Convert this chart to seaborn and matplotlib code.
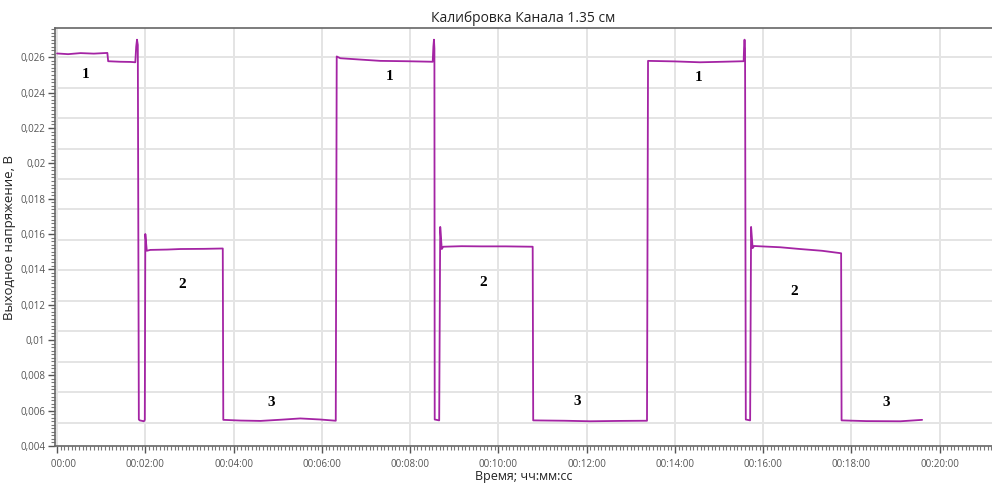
import matplotlib
matplotlib.use("Agg")
import matplotlib.pyplot as plt
from matplotlib.ticker import MultipleLocator, FixedLocator
from matplotlib.transforms import Bbox, TransformedBbox, IdentityTransform
import numpy as np
import pandas as pd
import seaborn as sns

# time in seconds, output voltage in volts
time_s = [0, 15, 32, 50, 68.4, 69.5, 86, 100, 106.4, 107.6, 108.7, 109.8,
          111.2, 112.5, 118, 119.3,
          120, 122, 126.8, 150, 167.6, 200, 225.3,
          226, 250, 276.5, 305, 330.6, 357.8, 378.9,
          380.2, 385, 410, 439.4, 475, 510.7, 511.6, 512.4, 513.0,
          513.4, 519.5,
          520.9, 523, 525, 550, 576.5, 610, 646.6,
          647.3, 690, 724.7, 765, 802,
          803.4, 840, 874, 905, 933.4, 934.0, 934.6, 935.3,
          936.3, 942.2,
          943.5, 945.6, 947.6, 983, 1010, 1040, 1065.9,
          1066.5, 1100, 1146.6, 1176]
voltage = [0.02622, 0.02618, 0.02624, 0.02621, 0.02625, 0.02578, 0.02575, 0.02574, 0.02572, 0.02660, 0.02700, 0.02670,
           0.00550, 0.00545, 0.00540, 0.00548,
           0.01600, 0.01505, 0.01510, 0.01512, 0.01515, 0.01516, 0.01518,
           0.00548, 0.00544, 0.00542, 0.00549, 0.00556, 0.00550, 0.00543,
           0.02605, 0.02595, 0.02588, 0.02580, 0.02578, 0.02575, 0.02660, 0.02700, 0.02650,
           0.00550, 0.00545,
           0.01640, 0.01515, 0.01528, 0.01531, 0.01530, 0.01530, 0.01528,
           0.00545, 0.00543, 0.00540, 0.00542, 0.00543,
           0.02580, 0.02577, 0.02572, 0.02575, 0.02578, 0.02660, 0.02700, 0.02650,
           0.00550, 0.00545,
           0.01640, 0.01520, 0.01532, 0.01525, 0.01515, 0.01505, 0.01491,
           0.00545, 0.00541, 0.00540, 0.00548]

# step labels
label_text = ["1", "1", "1", "2", "2", "2", "3", "3", "3"]
label_t = [38.5, 451.5, 871.5, 170.4, 579.3, 1002, 291.3, 707.2, 1126.9]
label_v = [0.02502, 0.02491, 0.02486, 0.01313, 0.01324, 0.01273, 0.00647, 0.00652, 0.00647]

y_ticks = [0.004, 0.006, 0.008, 0.010, 0.012, 0.014, 0.016, 0.018, 0.020, 0.022, 0.024, 0.026]
y_tick_labels = ["0,004", "0,006", "0,008", "0,01", "0,012", "0,014", "0,016",
                 "0,018", "0,02", "0,022", "0,024", "0,026"]
x_ticks = [0, 120, 240, 360, 480, 600, 720, 840, 960, 1080, 1200]
x_tick_labels = ["00:00:00", "00:02:00", "00:04:00", "00:06:00", "00:08:00", "00:10:00",
                 "00:12:00", "00:14:00", "00:16:00", "00:18:00", "00:20:00"]

df = pd.DataFrame({"t": time_s, "v": voltage})

sns.set_theme(style="white")
plt.rcParams['font.family'] = ['Open Sans', 'DejaVu Sans']

fig = plt.figure(figsize=(9.92, 4.83), dpi=100)
ax = fig.add_axes([0.0555, 0.0766, 0.9445, 0.8654])

# the recorder's horizontal grid does not follow the tick marks
for gy in np.linspace(0.026, 0.00533, 13):
    ax.axhline(gy, color="#e4e4e4", lw=1.4, zorder=0)
for gx in x_ticks:
    ax.axvline(gx, color="#e4e4e4", lw=1.4, zorder=0)

sns.lineplot(data=df, x="t", y="v", ax=ax, color="#a424a4", lw=1.3,
             sort=False, estimator=None)

for txt, t, v in zip(label_text, label_t, label_v):
    ax.text(t, v, txt, ha="center", va="center", fontsize=11, fontweight="bold",
            family="Liberation Serif", color="black")

ax.set_xlim(-2.7, 1271)
ax.set_ylim(0.004, 0.02766)

ax.yaxis.set_major_locator(FixedLocator(y_ticks))
ax.set_yticklabels(y_tick_labels)
ax.yaxis.set_minor_locator(MultipleLocator(0.0002))
ax.xaxis.set_major_locator(FixedLocator(x_ticks))
ax.set_xticklabels(x_tick_labels)
ax.xaxis.set_minor_locator(MultipleLocator(5))

ax.tick_params(which="major", direction="out", length=5, width=1, color="#555555",
               labelsize=7, labelcolor="#555555", pad=2,
               bottom=True, left=True)
ax.tick_params(which="minor", direction="out", length=3, width=0.8, color="#777777",
               bottom=True, left=True)
ax.tick_params(axis="x", pad=4)

for side in ["left", "bottom", "top"]:
    ax.spines[side].set_color("#666666")
    ax.spines[side].set_linewidth(1.2)
ax.spines["right"].set_visible(False)

ax.set_title("Калибровка Канала 1.35 см", fontsize=10, color="#222222", pad=4)
ax.set_xlabel("Время; чч:мм:сс", fontsize=9, color="#222222", labelpad=0)
ax.set_ylabel("Выходное напряжение, В", fontsize=9.5, color="#222222", labelpad=3)

# first time label is cut off at the axis edge in the original
first = ax.get_xticklabels()[0]
first.set_clip_box(TransformedBbox(Bbox([[50, 0], [992, 483]]), IdentityTransform()))
first.set_clip_on(True)

fig.savefig("out.png", dpi=100)
